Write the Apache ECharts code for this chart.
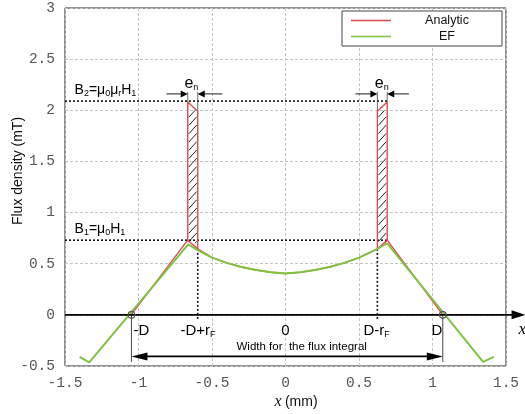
<!DOCTYPE html>
<html><head><meta charset="utf-8">
<script src="https://cdn.jsdelivr.net/npm/echarts@6/dist/echarts.min.js"></script>
<style>html,body{margin:0;padding:0;background:#fff}#c{width:525px;height:414px}</style>
</head><body><div id="c"></div>
<script>
// ---- data ----
const xMin = -1.5, xMax = 1.5, xStep = 0.5;
const yMin = -0.5, yMax = 3, yStep = 0.5;

// EF (green) curve
const efX = [-1.40, -1.335, -0.662, -0.60, -0.50, -0.40, -0.30, -0.20, -0.10, 0.00, 0.10, 0.20, 0.30, 0.40, 0.50, 0.62, 0.692, 1.344, 1.417];
const efY = [-0.41, -0.465, 0.69, 0.635, 0.56, 0.508, 0.468, 0.438, 0.417, 0.405, 0.417, 0.438, 0.468, 0.508, 0.56, 0.64, 0.70, -0.46, -0.41];

// Analytic (red) curve
const anaX = [-1.05, -0.665, -0.597, -0.50, -0.40, -0.30, -0.20, -0.10, 0.00, 0.10, 0.20, 0.30, 0.40, 0.50, 0.625, 0.692, 1.07];
const anaY = [0.00, 0.73, 0.645, 0.56, 0.508, 0.468, 0.438, 0.417, 0.405, 0.417, 0.438, 0.468, 0.508, 0.56, 0.645, 0.73, 0.00];

// Analytic spike outlines (rectangles of width e_n)
const spikeLX = [-0.665, -0.665, -0.597, -0.597];
const spikeLY = [0.73, 2.08, 1.99, 0.645];
const spikeRX = [0.625, 0.625, 0.692, 0.692];
const spikeRY = [0.645, 1.99, 2.08, 0.73];

// hatched regions [x0, x1, yBottom, yTop]
const hatchL = [-0.665, -0.597, 0.70, 2.0];
const hatchR = [0.625, 0.692, 0.70, 2.0];

// reference levels
const B1 = 0.73, B2 = 2.09;
const levelEndX = 0.692;
// marked positions
const dLeft = -1.048, dRight = 1.07;        // zero crossings / integral limits
const rfLeft = -0.597, rfRight = 0.625;     // -D+rF, D-rF
const widthArrowY = -0.406;
const enArrowY = 2.16;

const legendNames = ['Analytic', 'EF'];
const RED = '#dd4a50', GREEN = '#80c341';

const zip = (a, b) => a.map((v, i) => [v, b[i]]);

const chart = echarts.init(document.getElementById('c'), null, {renderer: 'canvas'});

const dottedStyle = {color: '#111', width: 1.6, type: [2, 2]};

const option = {
  animation: false,
  backgroundColor: '#fff',
  grid: {left: 65, right: 19, top: 8, bottom: 48, show: true, borderColor: '#222', borderWidth: 1, backgroundColor: 'transparent'},
  legend: {
    data: legendNames, orient: 'vertical', left: 342, top: 11,
    icon: 'rect', itemWidth: 40, itemHeight: 1.6, itemGap: 3,
    padding: [3, 4, 3, 9], borderColor: '#444', borderWidth: 1, backgroundColor: '#fff',
    formatter: function (n) { return '{c|' + n + '}'; },
    textStyle: {fontFamily: 'Liberation Sans', fontSize: 12.5, color: '#111', lineHeight: 13,
      rich: {c: {width: 102, align: 'center', fontFamily: 'Liberation Sans', fontSize: 12.5, color: '#111', lineHeight: 13}}}
  },
  xAxis: {
    type: 'value', min: xMin, max: xMax, interval: xStep,
    axisLine: {show: false}, axisTick: {show: false},
    axisLabel: {fontFamily: 'Liberation Mono', fontSize: 14.5, color: '#555', margin: 10},
    splitLine: {show: true, lineStyle: {color: '#c4c4c4', type: [3, 2], width: 1}}
  },
  yAxis: {
    type: 'value', min: yMin, max: yMax, interval: yStep,
    axisLine: {show: false}, axisTick: {show: false},
    axisLabel: {fontFamily: 'Liberation Mono', fontSize: 14.5, color: '#555', margin: 10},
    splitLine: {show: true, lineStyle: {color: '#c4c4c4', type: [3, 2], width: 1}}
  },
  series: [
    {name: 'Analytic', type: 'line', data: zip(anaX, anaY), showSymbol: false, symbol: 'none',
     lineStyle: {color: RED, width: 1.4}, itemStyle: {color: RED}, z: 3},
    {name: 'spikeL', type: 'line', data: zip(spikeLX, spikeLY), symbol: 'none',
     lineStyle: {color: RED, width: 1.4}, z: 3},
    {name: 'spikeR', type: 'line', data: zip(spikeRX, spikeRY), symbol: 'none',
     lineStyle: {color: RED, width: 1.4}, z: 3},
    {name: 'hatch', type: 'custom', data: [hatchL, hatchR], z: 2,
     encode: {x: [0, 1], y: [2, 3]},
     renderItem: function (params, api) {
       const pA = api.coord([api.value(0), api.value(2)]);
       const pB = api.coord([api.value(1), api.value(3)]);
       const left = pA[0] + 1, right = pB[0] - 1, bottom = pA[1], top = pB[1];
       const w = right - left, rise = w * 1.1, step = 8.3;
       const children = [];
       for (let y = bottom + rise - 2; y > top; y -= step) {
         const ta = Math.max(0, (y - bottom) / rise);
         const tb = Math.min(1, (y - top) / rise);
         if (tb <= ta) continue;
         children.push({type: 'line', shape: {x1: left + ta * w, y1: y - ta * rise, x2: left + tb * w, y2: y - tb * rise},
           style: {stroke: '#222', lineWidth: 1}});
       }
       return {type: 'group', children: children};
     }},
    {name: 'EF', type: 'line', data: zip(efX, efY), showSymbol: false, symbol: 'none',
     lineStyle: {color: GREEN, width: 2}, itemStyle: {color: GREEN}, z: 4},
    // reference dotted lines
    {name: 'B2', type: 'line', data: [[xMin, B2], [levelEndX, B2]], symbol: 'none', lineStyle: dottedStyle, z: 1},
    {name: 'B1', type: 'line', data: [[xMin, B1], [levelEndX, B1]], symbol: 'none', lineStyle: dottedStyle, z: 1},
    {name: 'vL', type: 'line', data: [[rfLeft, 0.645], [rfLeft, -0.05]], symbol: 'none', lineStyle: dottedStyle, z: 1},
    {name: 'vR', type: 'line', data: [[rfRight, 0.645], [rfRight, -0.05]], symbol: 'none', lineStyle: dottedStyle, z: 1},
    // limits of the flux integral
    {name: 'bL', type: 'line', data: [[dLeft, 0], [dLeft, -0.46]], symbol: 'none', lineStyle: {color: '#333', width: 0.9}, z: 1},
    {name: 'bR', type: 'line', data: [[dRight, 0], [dRight, -0.46]], symbol: 'none', lineStyle: {color: '#333', width: 0.9}, z: 1},
    // extension lines for e_n
    {name: 'eL1', type: 'line', data: [[spikeLX[0], 2.08], [spikeLX[0], enArrowY + 0.02]], symbol: 'none', lineStyle: {color: '#444', width: 0.8}, z: 1},
    {name: 'eL2', type: 'line', data: [[spikeLX[2], 1.99], [spikeLX[2], enArrowY + 0.02]], symbol: 'none', lineStyle: {color: '#444', width: 0.8}, z: 1},
    {name: 'eR1', type: 'line', data: [[spikeRX[0], 1.99], [spikeRX[0], enArrowY + 0.02]], symbol: 'none', lineStyle: {color: '#444', width: 0.8}, z: 1},
    {name: 'eR2', type: 'line', data: [[spikeRX[2], 2.08], [spikeRX[2], enArrowY + 0.02]], symbol: 'none', lineStyle: {color: '#444', width: 0.8}, z: 1},
    {name: 'zeros', type: 'scatter', data: [[dLeft, 0], [dRight, 0]], symbol: 'circle', symbolSize: 7,
     itemStyle: {color: 'rgba(255,255,255,0)', borderColor: '#555', borderWidth: 1}, z: 30}
  ]
};
chart.setOption(option);

function px(x, y) { return chart.convertToPixel({gridIndex: 0}, [x, y]); }
function arrowHead(tip, dir, len, hw) {
  return {type: 'polygon', z: 20, shape: {points: [[tip[0], tip[1]], [tip[0] - dir * len, tip[1] - hw], [tip[0] - dir * len, tip[1] + hw]]},
    style: {fill: '#000'}};
}
function hLine(a, b, w) {
  return {type: 'line', z: 19, shape: {x1: a[0], y1: a[1], x2: b[0], y2: b[1]}, style: {stroke: '#000', lineWidth: w}};
}
function txt(p, text, size, extra) {
  return Object.assign({type: 'text', z: 21, x: p[0], y: p[1],
    style: Object.assign({text: text, fill: '#000', fontFamily: 'Liberation Sans', fontSize: size, align: 'center', verticalAlign: 'middle'}, extra || {})});
}

const g = [];
// zero axis with arrow
const z0 = px(xMin, 0), zEnd = px(1.633, 0);
g.push(hLine(z0, [zEnd[0] - 10, zEnd[1]], 1.6));
g.push(arrowHead(zEnd, 1, 14, 4.5));
// zero-crossing circles (drawn above the axis line)
[dLeft, dRight].forEach(function (x) {
  const p = px(x, 0);
  g.push({type: 'circle', z: 25, shape: {cx: p[0], cy: p[1], r: 3.5}, style: {fill: 'none', stroke: '#555', lineWidth: 1}});
});
// width arrow
const wa = px(dLeft, widthArrowY), wb = px(dRight, widthArrowY);
g.push(hLine([wa[0] + 10, wa[1]], [wb[0] - 10, wb[1]], 1.6));
g.push(arrowHead(wa, -1, 16, 4));
g.push(arrowHead(wb, 1, 16, 4));
// e_n arrows
[[spikeLX[0], spikeLX[2], -0.81, -0.43], [spikeRX[0], spikeRX[2], 0.476, 0.839]].forEach(function (s) {
  const l = px(s[0], enArrowY), r = px(s[1], enArrowY), lo = px(s[2], enArrowY), ro = px(s[3], enArrowY);
  g.push(hLine(lo, [l[0] - 4, l[1]], 0.9));
  g.push(arrowHead(l, 1, 7, 3.5));
  g.push(hLine([r[0] + 4, r[1]], ro, 0.9));
  g.push(arrowHead(r, -1, 7, 3.5));
});
const sub = {fontSize: 9, fontFamily: 'Liberation Sans', padding: [7, 0, 0, 0]};
const richBase = {m: {fontSize: 14, fontFamily: 'Liberation Sans'}, s: sub};
g.push(txt(px(-0.64, 2.26), '{m|e}{s|n}', 14, {rich: {m: {fontSize: 16, fontFamily: 'Liberation Sans'}, s: sub}}));
g.push(txt(px(0.655, 2.26), '{m|e}{s|n}', 14, {rich: {m: {fontSize: 16, fontFamily: 'Liberation Sans'}, s: sub}}));
g.push(txt(px(-1.435, 2.2), '{m|B}{s|2}{m|=μ}{s|0}{m|μ}{s|r}{m|H}{s|1}', 14, {align: 'left', rich: richBase}));
g.push(txt(px(-1.435, 0.84), '{m|B}{s|1}{m|=μ}{s|0}{m|H}{s|1}', 14, {align: 'left', rich: richBase}));
// x-position labels
const rich15 = {m: {fontSize: 15, fontFamily: 'Liberation Sans'}, s: {fontSize: 9, fontFamily: 'Liberation Sans', padding: [7, 0, 0, 0]}};
g.push(txt(px(-0.98, -0.16), '{m|-D}', 15, {rich: rich15}));
g.push(txt(px(-0.595, -0.16), '{m|-D+r}{s|F}', 15, {rich: rich15}));
g.push(txt(px(0, -0.16), '{m|0}', 15, {rich: rich15}));
g.push(txt(px(0.62, -0.16), '{m|D-r}{s|F}', 15, {rich: rich15}));
g.push(txt(px(1.03, -0.16), '{m|D}', 15, {rich: rich15}));
g.push(txt(px(0.11, -0.31), 'Width for  the flux integral', 11.5));
g.push(txt(px(1.61, -0.14), 'x', 17, {fontFamily: 'Liberation Serif', fontStyle: 'italic'}));
// axis titles
g.push({type: 'text', z: 21, x: 18, y: 171, rotation: Math.PI / 2,
  style: {text: 'Flux density (mT)', fill: '#111', fontFamily: 'Liberation Sans', fontSize: 14, align: 'center', verticalAlign: 'middle'}});
g.push({type: 'text', z: 21, x: 296, y: 402,
  style: {text: '{i|x} {n|(mm)}', align: 'center', verticalAlign: 'middle',
    rich: {i: {fontFamily: 'Liberation Serif', fontStyle: 'italic', fontSize: 16, fill: '#111'}, n: {fontFamily: 'Liberation Sans', fontSize: 14, fill: '#111'}}}});

chart.setOption({graphic: g});
</script>
</body></html>
